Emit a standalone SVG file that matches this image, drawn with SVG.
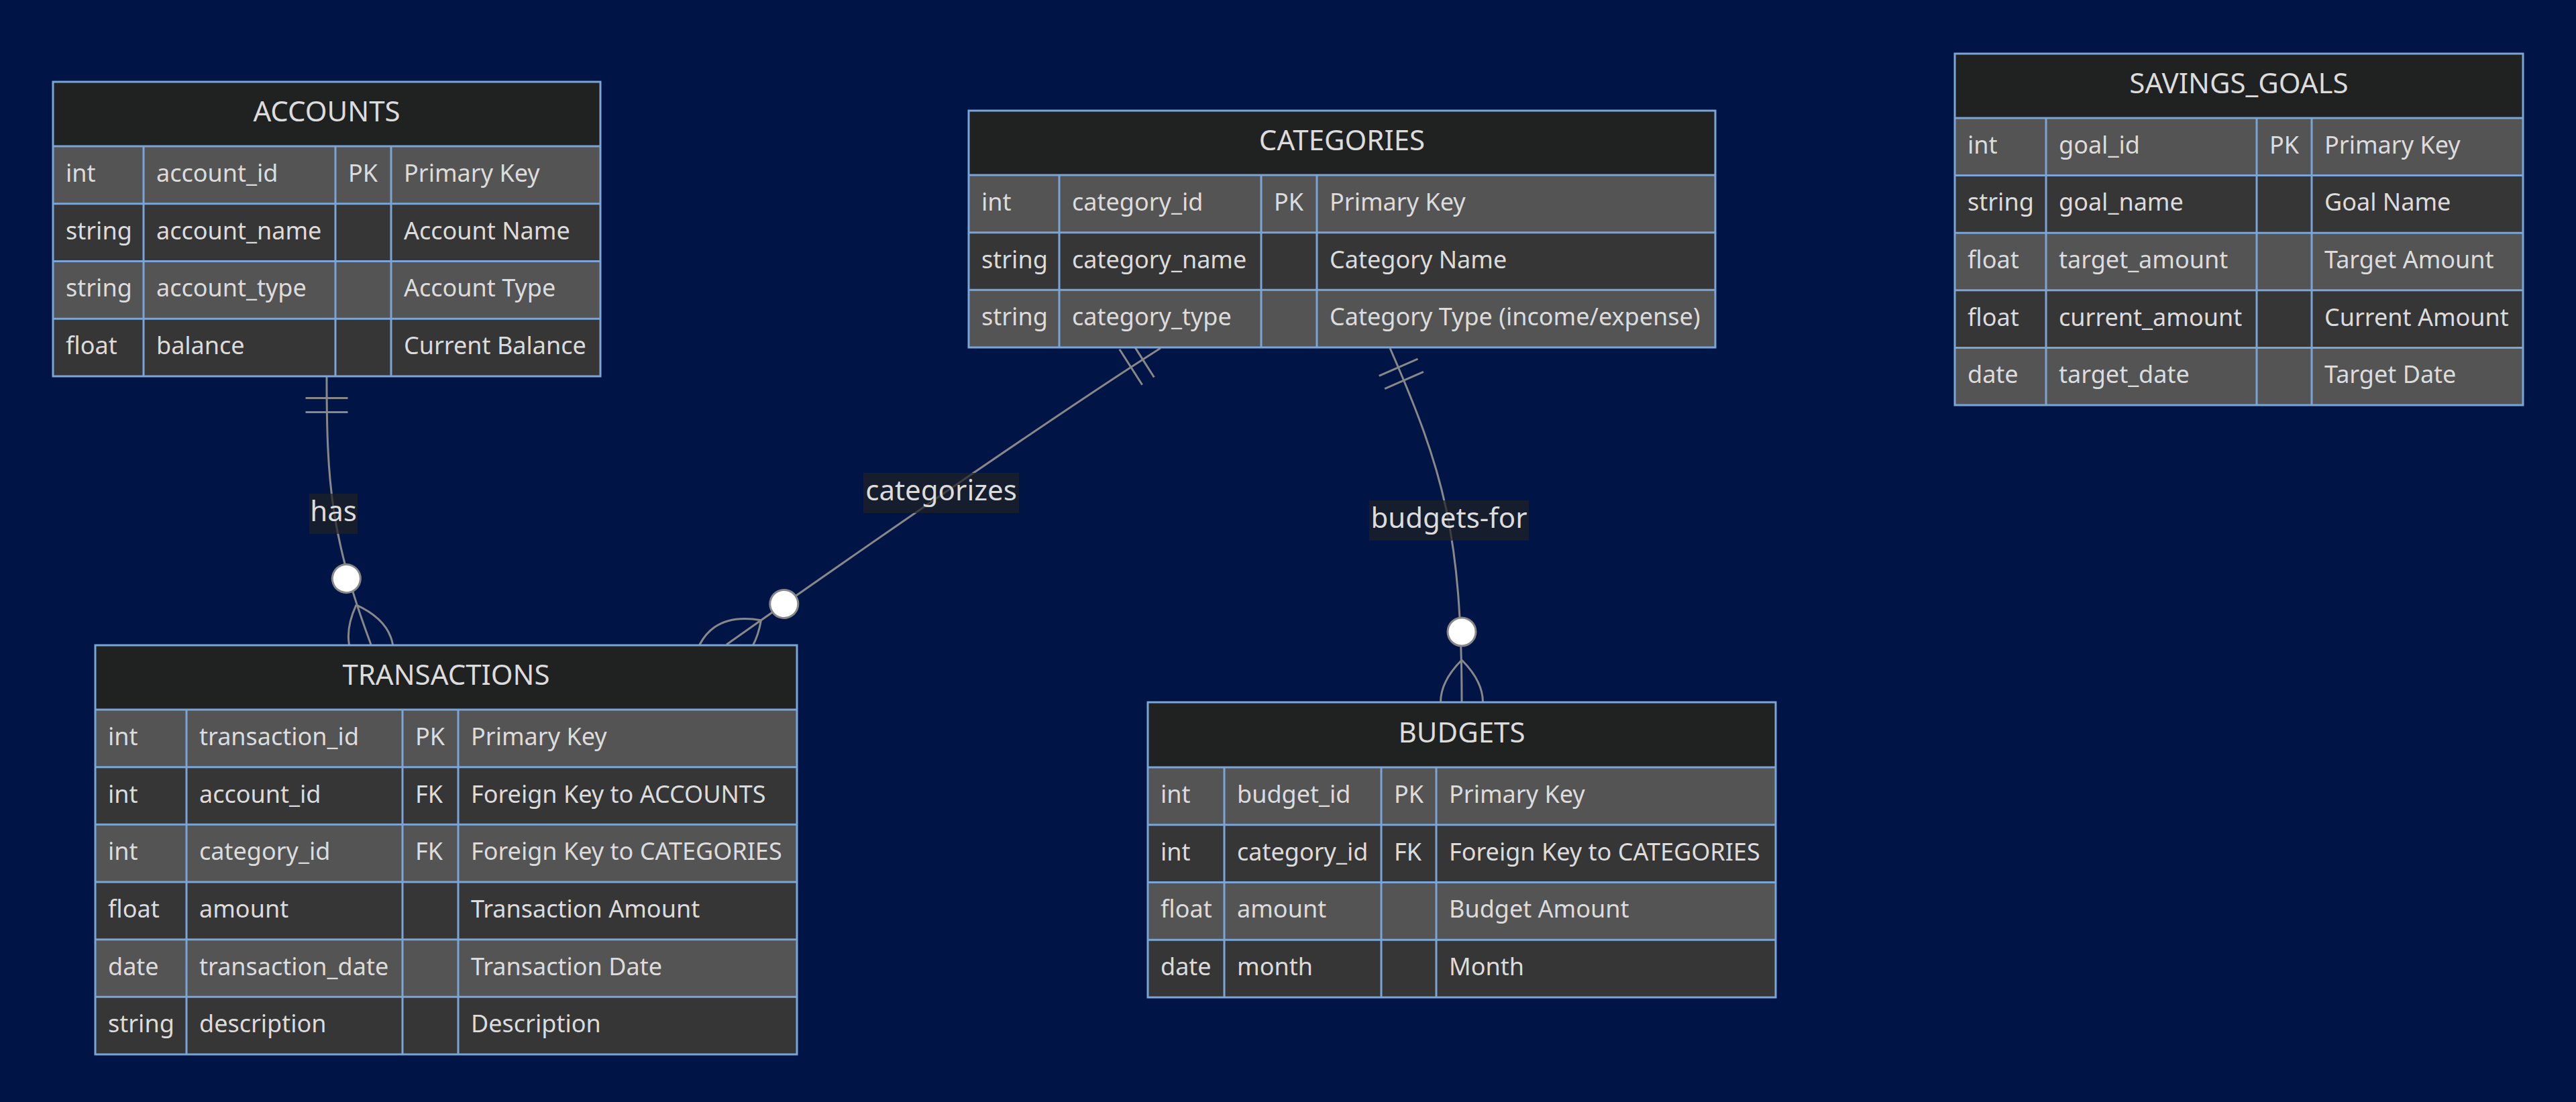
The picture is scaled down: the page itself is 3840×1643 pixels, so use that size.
<svg xmlns="http://www.w3.org/2000/svg" width="3840" height="1643" viewBox="0 0 3840 1643">
<defs>
<style>
.t{font-family:"Noto Sans","Open Sans","DejaVu Sans",sans-serif;fill:#dcdcdc}
.hd{font-size:42px;text-anchor:middle}
.at{font-size:36px}
.lb{font-size:42px;text-anchor:middle}
.hf{fill:#202121}
.ro{fill:#545454}
.re{fill:#363636}
.bd{fill:none;stroke:#7aa5d6;stroke-width:3}
.edge{fill:none;stroke:#888;stroke-width:3}
.lbox{fill:#202121;opacity:0.7}
</style>
<marker id="one" viewBox="0 0 18 18" refX="0" refY="9" markerWidth="63" markerHeight="63" markerUnits="userSpaceOnUse" orient="auto" overflow="visible">
<path d="M9,0 L9,18 M15,0 L15,18" stroke="#888" stroke-width="0.857" fill="none"/>
</marker>
<marker id="zmany" viewBox="0 0 57 36" refX="39" refY="18" markerWidth="199.5" markerHeight="126" markerUnits="userSpaceOnUse" orient="auto" overflow="visible">
<circle cx="9" cy="18" r="6" fill="#fff" stroke="#888" stroke-width="0.857"/>
<path d="M21,18 Q39,0 57,18 Q39,36 21,18" fill="none" stroke="#888" stroke-width="0.857"/>
</marker>
</defs>
<rect x="0" y="0" width="3840" height="1643" fill="#001446"/>

<g id="connectors">
<path class="edge" d="M487,562 C487,720 493,800 553,961" marker-start="url(#one)" marker-end="url(#zmany)"/>
<path class="edge" d="M1730,519 C1561.4,626.6 1246.4,845.6 1083,961" marker-start="url(#one)" marker-end="url(#zmany)"/>
<path class="edge" d="M2072,519 C2152,702 2179,797 2179,1047" marker-start="url(#one)" marker-end="url(#zmany)"/>
<rect class="lbox" x="461" y="736" width="72" height="60"/>
<text class="t lb" x="497" y="776.5">has</text>
<rect class="lbox" x="1287" y="705" width="232" height="60"/>
<text class="t lb" x="1403" y="745.5">categorizes</text>
<rect class="lbox" x="2041" y="746" width="238" height="60"/>
<text class="t lb" x="2160" y="786.5">budgets-for</text>
</g>

<g id="ACCOUNTS">
<rect class="hf" x="79" y="122" width="816" height="96"/>
<rect class="ro" x="79" y="218" width="816" height="85.75"/>
<rect class="re" x="79" y="303.75" width="816" height="85.75"/>
<rect class="ro" x="79" y="389.5" width="816" height="85.75"/>
<rect class="re" x="79" y="475.25" width="816" height="85.75"/>
<path class="bd" d="M79,218H895M79,303.75H895M79,389.5H895M79,475.25H895M214,218V561M500,218V561M583,218V561"/>
<rect class="bd" x="79" y="122" width="816" height="439"/>
<text class="t hd" x="487" y="181">ACCOUNTS</text>
<text class="t at" x="98" y="271">int</text><text class="t at" x="233" y="271">account_id</text><text class="t at" x="519" y="271">PK</text><text class="t at" x="602" y="271">Primary Key</text>
<text class="t at" x="98" y="356.6">string</text><text class="t at" x="233" y="356.6">account_name</text><text class="t at" x="602" y="356.6">Account Name</text>
<text class="t at" x="98" y="442.4">string</text><text class="t at" x="233" y="442.4">account_type</text><text class="t at" x="602" y="442.4">Account Type</text>
<text class="t at" x="98" y="528.1">float</text><text class="t at" x="233" y="528.1">balance</text><text class="t at" x="602" y="528.1">Current Balance</text>
</g>

<g id="TRANSACTIONS">
<rect class="hf" x="142" y="962" width="1046" height="96"/>
<rect class="ro" x="142" y="1058" width="1046" height="85.67"/>
<rect class="re" x="142" y="1143.67" width="1046" height="85.67"/>
<rect class="ro" x="142" y="1229.33" width="1046" height="85.67"/>
<rect class="re" x="142" y="1315" width="1046" height="85.67"/>
<rect class="ro" x="142" y="1400.67" width="1046" height="85.67"/>
<rect class="re" x="142" y="1486.33" width="1046" height="85.67"/>
<path class="bd" d="M142,1058H1188M142,1143.67H1188M142,1229.33H1188M142,1315H1188M142,1400.67H1188M142,1486.33H1188M278,1058V1572M600,1058V1572M683,1058V1572"/>
<rect class="bd" x="142" y="962" width="1046" height="610"/>
<text class="t hd" x="665" y="1021">TRANSACTIONS</text>
<text class="t at" x="161" y="1110.8">int</text><text class="t at" x="297" y="1110.8">transaction_id</text><text class="t at" x="619" y="1110.8">PK</text><text class="t at" x="702" y="1110.8">Primary Key</text>
<text class="t at" x="161" y="1196.5">int</text><text class="t at" x="297" y="1196.5">account_id</text><text class="t at" x="619" y="1196.5">FK</text><text class="t at" x="702" y="1196.5">Foreign Key to ACCOUNTS</text>
<text class="t at" x="161" y="1282.2">int</text><text class="t at" x="297" y="1282.2">category_id</text><text class="t at" x="619" y="1282.2">FK</text><text class="t at" x="702" y="1282.2">Foreign Key to CATEGORIES</text>
<text class="t at" x="161" y="1367.8">float</text><text class="t at" x="297" y="1367.8">amount</text><text class="t at" x="702" y="1367.8">Transaction Amount</text>
<text class="t at" x="161" y="1453.5">date</text><text class="t at" x="297" y="1453.5">transaction_date</text><text class="t at" x="702" y="1453.5">Transaction Date</text>
<text class="t at" x="161" y="1539.2">string</text><text class="t at" x="297" y="1539.2">description</text><text class="t at" x="702" y="1539.2">Description</text>
</g>

<g id="CATEGORIES">
<rect class="hf" x="1444" y="165" width="1113" height="96"/>
<rect class="ro" x="1444" y="261" width="1113" height="85.67"/>
<rect class="re" x="1444" y="346.67" width="1113" height="85.67"/>
<rect class="ro" x="1444" y="432.33" width="1113" height="85.67"/>
<path class="bd" d="M1444,261H2557M1444,346.67H2557M1444,432.33H2557M1579,261V518M1880,261V518M1963,261V518"/>
<rect class="bd" x="1444" y="165" width="1113" height="353"/>
<text class="t hd" x="2000.5" y="224">CATEGORIES</text>
<text class="t at" x="1463" y="313.8">int</text><text class="t at" x="1598" y="313.8">category_id</text><text class="t at" x="1899" y="313.8">PK</text><text class="t at" x="1982" y="313.8">Primary Key</text>
<text class="t at" x="1463" y="399.5">string</text><text class="t at" x="1598" y="399.5">category_name</text><text class="t at" x="1982" y="399.5">Category Name</text>
<text class="t at" x="1463" y="485.2">string</text><text class="t at" x="1598" y="485.2">category_type</text><text class="t at" x="1982" y="485.2">Category Type (income/expense)</text>
</g>

<g id="BUDGETS">
<rect class="hf" x="1711" y="1047" width="936" height="97"/>
<rect class="ro" x="1711" y="1144" width="936" height="85.75"/>
<rect class="re" x="1711" y="1229.75" width="936" height="85.75"/>
<rect class="ro" x="1711" y="1315.5" width="936" height="85.75"/>
<rect class="re" x="1711" y="1401.25" width="936" height="85.75"/>
<path class="bd" d="M1711,1144H2647M1711,1229.75H2647M1711,1315.5H2647M1711,1401.25H2647M1825,1144V1487M2059,1144V1487M2141,1144V1487"/>
<rect class="bd" x="1711" y="1047" width="936" height="440"/>
<text class="t hd" x="2179" y="1106.5">BUDGETS</text>
<text class="t at" x="1730" y="1196.9">int</text><text class="t at" x="1844" y="1196.9">budget_id</text><text class="t at" x="2078" y="1196.9">PK</text><text class="t at" x="2160" y="1196.9">Primary Key</text>
<text class="t at" x="1730" y="1282.6">int</text><text class="t at" x="1844" y="1282.6">category_id</text><text class="t at" x="2078" y="1282.6">FK</text><text class="t at" x="2160" y="1282.6">Foreign Key to CATEGORIES</text>
<text class="t at" x="1730" y="1368.4">float</text><text class="t at" x="1844" y="1368.4">amount</text><text class="t at" x="2160" y="1368.4">Budget Amount</text>
<text class="t at" x="1730" y="1454.1">date</text><text class="t at" x="1844" y="1454.1">month</text><text class="t at" x="2160" y="1454.1">Month</text>
</g>

<g id="SAVINGS_GOALS">
<rect class="hf" x="2914" y="80" width="847" height="96"/>
<rect class="ro" x="2914" y="176" width="847" height="85.6"/>
<rect class="re" x="2914" y="261.6" width="847" height="85.6"/>
<rect class="ro" x="2914" y="347.2" width="847" height="85.6"/>
<rect class="re" x="2914" y="432.8" width="847" height="85.6"/>
<rect class="ro" x="2914" y="518.4" width="847" height="85.6"/>
<path class="bd" d="M2914,176H3761M2914,261.6H3761M2914,347.2H3761M2914,432.8H3761M2914,518.4H3761M3050,176V604M3364,176V604M3446,176V604"/>
<rect class="bd" x="2914" y="80" width="847" height="524"/>
<text class="t hd" x="3337.5" y="139">SAVINGS_GOALS</text>
<text class="t at" x="2933" y="228.8">int</text><text class="t at" x="3069" y="228.8">goal_id</text><text class="t at" x="3383" y="228.8">PK</text><text class="t at" x="3465" y="228.8">Primary Key</text>
<text class="t at" x="2933" y="314.4">string</text><text class="t at" x="3069" y="314.4">goal_name</text><text class="t at" x="3465" y="314.4">Goal Name</text>
<text class="t at" x="2933" y="400">float</text><text class="t at" x="3069" y="400">target_amount</text><text class="t at" x="3465" y="400">Target Amount</text>
<text class="t at" x="2933" y="485.6">float</text><text class="t at" x="3069" y="485.6">current_amount</text><text class="t at" x="3465" y="485.6">Current Amount</text>
<text class="t at" x="2933" y="571.2">date</text><text class="t at" x="3069" y="571.2">target_date</text><text class="t at" x="3465" y="571.2">Target Date</text>
</g>
</svg>
